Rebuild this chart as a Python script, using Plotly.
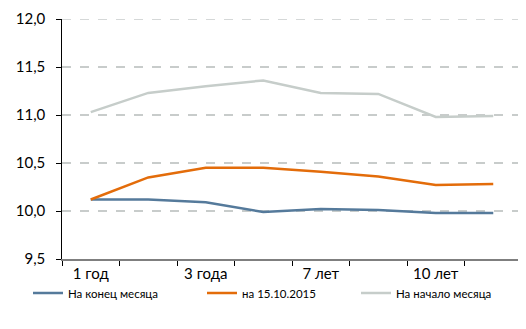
import plotly.graph_objects as go

categories = ["1 год", "2 года", "3 года", "5 лет", "7 лет", "8 лет", "10 лет", "15 лет"]
tick_labels = ["1 год", "3 года", "7 лет", "10 лет"]
end_of_month = [10.12, 10.12, 10.09, 9.99, 10.02, 10.01, 9.98, 9.98]
on_date = [10.12, 10.35, 10.45, 10.45, 10.41, 10.36, 10.27, 10.28]
start_of_month = [11.03, 11.23, 11.30, 11.36, 11.23, 11.22, 10.98, 10.99]

x = list(range(len(categories)))
tick_idx = [categories.index(t) for t in tick_labels]

W, H = 518, 321
L, R, T, B = 54, 4, 11, 70
PW, PH = W - L - R, H - T - B

fig = go.Figure()
fig.add_trace(go.Scatter(x=x, y=end_of_month, name="На конец месяца", mode="lines",
                         line=dict(color="#557A9B", width=2.5), legend="legend"))
fig.add_trace(go.Scatter(x=x, y=on_date, name="на 15.10.2015", mode="lines",
                         line=dict(color="#E36C0A", width=2.5), legend="legend2"))
fig.add_trace(go.Scatter(x=x, y=start_of_month, name="На начало месяца", mode="lines",
                         line=dict(color="#C6CDCA", width=2.5), legend="legend3"))

font = "Lato, 'Open Sans', sans-serif"


def leg(xpx):
    return dict(orientation="h", x=(xpx - L) / PW, xanchor="left", xref="paper",
                y=(H - B - 285) / PH, yanchor="middle", yref="paper",
                bgcolor="rgba(0,0,0,0)", font=dict(size=11.5))


fig.update_layout(
    width=W, height=H,
    margin=dict(l=L, r=R, t=T, b=B, autoexpand=False),
    plot_bgcolor="white", paper_bgcolor="white",
    separators=", ",
    font=dict(family=font, size=15, color="#000000"),
    showlegend=True,
    legend=leg(20), legend2=leg(194), legend3=leg(348),
)
fig.update_xaxes(
    range=[-0.5, len(categories) - 0.5],
    tickmode="array", tickvals=tick_idx, ticktext=tick_labels,
    ticks="", showgrid=False, zeroline=False, automargin=False,
    showline=True, linecolor="#7F7F7F", linewidth=2,
    tickfont=dict(size=15),
    minor=dict(tickmode="linear", tick0=-0.5, dtick=1, ticks="outside",
               ticklen=5, tickcolor="#000000", tickwidth=1, showgrid=False),
)
fig.update_yaxes(
    range=[9.5, 12.0], dtick=0.5, tick0=9.5, tickformat=".1f",
    showgrid=True, gridcolor="#C8CCCB", gridwidth=1.5, griddash="dash",
    zeroline=False, showline=True, linecolor="#000000", linewidth=1,
    ticks="outside", ticklen=5, tickcolor="#000000", automargin=False,
    tickfont=dict(size=15), ticksuffix="  ",
)
fig.add_hline(y=12.0, line=dict(color="#C8CCCB", width=1.5, dash="dash"))
fig.write_html("out.html")
